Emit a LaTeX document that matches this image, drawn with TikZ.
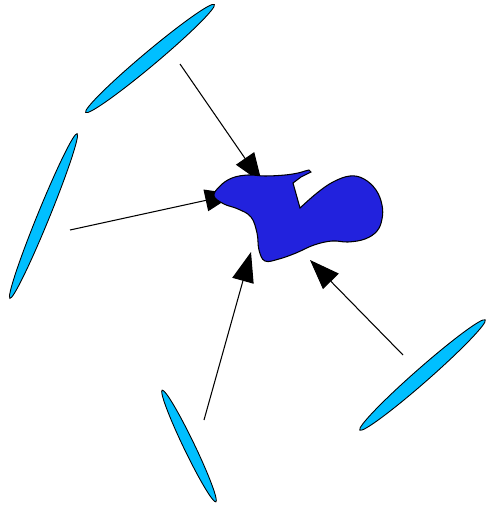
\documentclass[tikz,border=0pt]{standalone}
\usetikzlibrary{arrows.meta}
\definecolor{lensblue}{RGB}{0,191,255}
\definecolor{blobblue}{RGB}{34,34,221}
\tikzset{
  lens/.style={fill=lensblue,draw=black,line width=0.5pt},
  ray/.style={line width=0.6pt,-{Triangle[length=17pt,width=12.5pt]}},
}
\begin{document}
\begin{tikzpicture}[x=0.02cm,y=-0.02cm]
\useasboundingbox (0,0) rectangle (486,507);
% lenses
\draw[lens,rotate around={40:(150,58.5)}] (150,58.5) ellipse[x radius=1.68cm,y radius=0.14cm];
\draw[lens,rotate around={67.8:(43.5,216)}] (43.5,216) ellipse[x radius=1.78cm,y radius=0.12cm];
\draw[lens,rotate around={115.7:(189,446)}] (189,446) ellipse[x radius=1.24cm,y radius=0.11cm];
\draw[lens,rotate around={41.3:(422.5,375)}] (422.5,375) ellipse[x radius=1.67cm,y radius=0.14cm];
% rays
\coordinate (s1) at (180,64);  \coordinate (t1) at (262,183);
\coordinate (s2) at (70,230);  \coordinate (t2) at (235,194);
\coordinate (s3) at (204,420); \coordinate (t3) at (251,252);
\coordinate (s4) at (403,355); \coordinate (t4) at (310,260);
\foreach \i in {1,...,4}
  \draw[ray] (s\i) -- (t\i);
% object
\draw[fill=blobblue,line width=0.6pt] plot[smooth,tension=0.65] coordinates {(300,208) (317,193) (333,182) (350,176) (364,179) (376,190) (382,205) (382,219) (377,231) (365,239) (348,242) (332,241) (314,245) (296,253) (279,259) (265,261) (259,250) (257,233) (251,217) (238,209) (224,204) (214,196) (220,186) (232,178) (248,175) (265,176) (285,175) (298,173) (305,171) (309,170)}
  -- (311,172) -- (307,174) -- (301,177) -- (293,183) -- cycle;
\end{tikzpicture}
\end{document}
